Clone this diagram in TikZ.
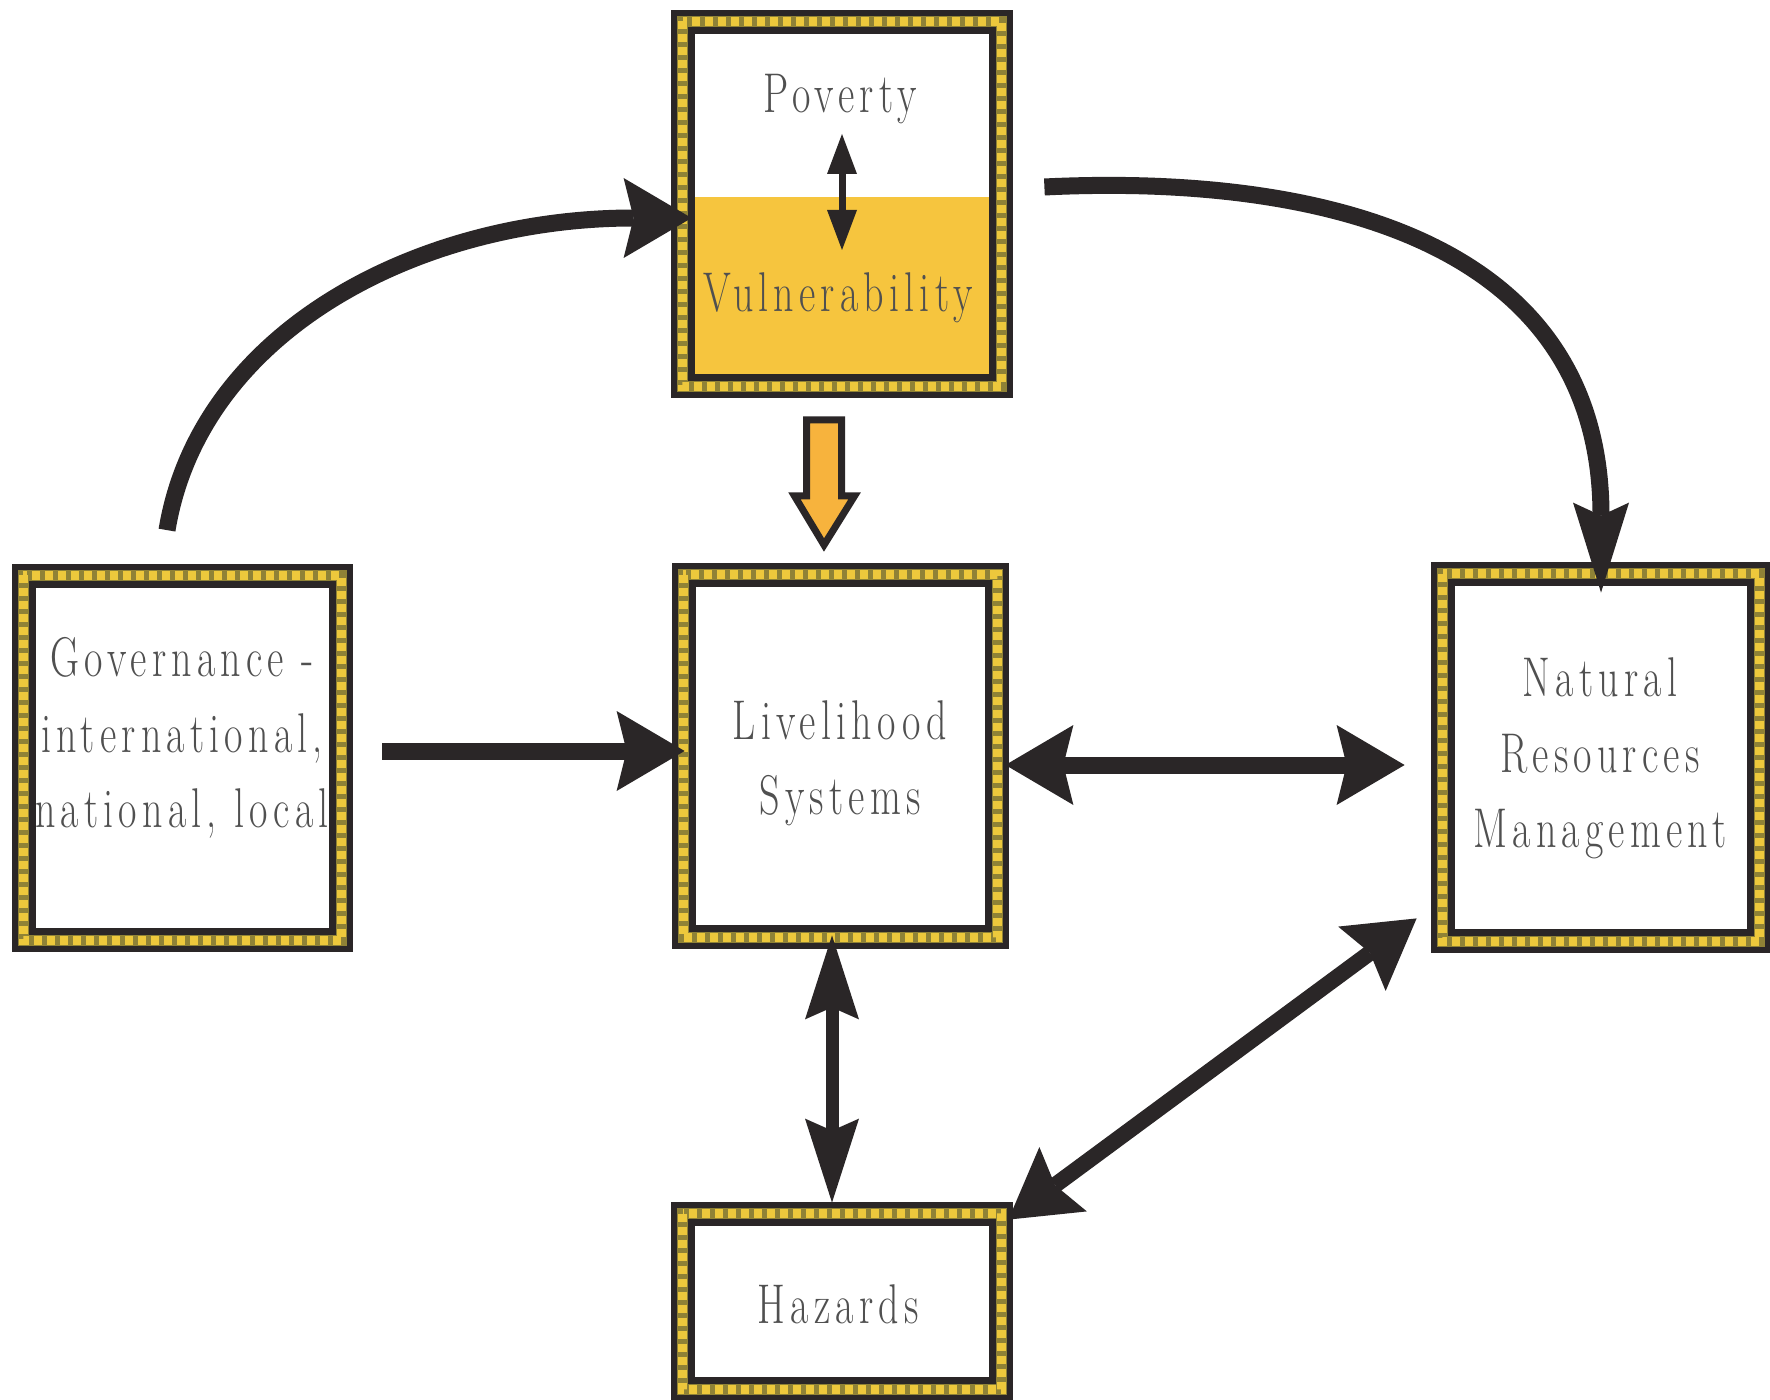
\documentclass[tikz,border=0pt]{standalone}
\usepackage{fontspec}
\usepackage{graphicx}
\usetikzlibrary{arrows.meta}
\newfontfamily\lblfam{lmroman17-regular.otf}[LetterSpace=13]
\definecolor{ink}{RGB}{42,38,39}
\definecolor{olivec}{RGB}{143,130,54}
\definecolor{bandyel}{RGB}{237,200,60}
\definecolor{vulnfill}{RGB}{246,197,62}
\definecolor{orangefill}{RGB}{247,179,61}
\definecolor{txtc}{RGB}{80,80,80}
\newcommand\stx[1]{\scalebox{1}[1.4]{\begin{tabular}{@{}c@{}}#1\end{tabular}}}
\newcommand\mybandframe[1]{%
  \draw[ink, line width=3.5pt] (#1.north west) rectangle (#1.south east);
  \draw[olivec, line width=5.5pt] ([shift={(-9,-9)}]#1.north west) rectangle ([shift={(9,9)}]#1.south east);
  \draw[bandyel, line width=4.5pt, dash pattern=on 4pt off 2.5pt] ([shift={(-9,-9)}]#1.north west) rectangle ([shift={(9,9)}]#1.south east);
  \draw[ink, line width=3pt] ([shift={(-17.5,-17.5)}]#1.north west) rectangle ([shift={(17.5,17.5)}]#1.south east);
}
\tikzset{
  boxn/.style={fill=white, inner sep=0pt, minimum width=150pt, minimum height=173.5pt},
  lbl/.style={text=txtc, font=\lblfam\fontsize{20}{27}\selectfont, align=center, inner sep=0pt},
  bigH/.tip={Stealth[length=34pt, width=40pt, inset=5pt, line width=0pt]},
  vH/.tip={Stealth[length=42pt, width=27pt, inset=6pt, line width=0pt]},
  cH/.tip={Stealth[length=45pt, width=28pt, inset=6.5pt, line width=0pt]},
  smallH/.tip={Stealth[length=20pt, width=15pt, inset=0pt, line width=0pt]},
  bigline/.style={draw=ink, line width=8.5pt},
}
\begin{document}
\begin{tikzpicture}[x=0.5pt,y=-0.5pt]
\fill[white] (0,0) rectangle (1770,1400);
\useasboundingbox (0,0) rectangle (1770,1400);

% boxes
\node[boxn] (top) at (842,204) {};
\fill[vulnfill] (top.west |- 0,197) rectangle (top.south east);
\node[boxn] (gov) at (182.5,758) {};
\node[boxn, minimum width=148pt, minimum height=172pt] (live) at (840.5,756) {};
\node[boxn, minimum width=149pt, minimum height=174.5pt] (nat) at (1601,757.5) {};
\node[boxn, minimum height=78.5pt] (haz) at (842,1301.5) {};
\mybandframe{top}
\mybandframe{gov}
\mybandframe{live}
\mybandframe{nat}
\mybandframe{haz}

% texts
\node[lbl] (pov) at (840,97) {\stx{Poverty}};
\node[lbl] (vul) at (838,296) {\stx{Vulnerability}};
\node[lbl] (govt) at (182,737) {\stx{Governance -\\international,\\national, local}};
\node[lbl] (livt) at (840,762) {\stx{Livelihood\\Systems}};
\node[lbl] (natt) at (1600,757) {\stx{Natural\\Resources\\Management}};
\node[lbl] (hazt) at (838,1308) {\stx{Hazards}};

% small arrow in top box
\draw[ink, line width=3.5pt, smallH-smallH] ([yshift=35pt]top.center) -- ([yshift=-23pt]top.center);

% orange block arrow
\draw[ink, fill=orangefill, line width=3.5pt, line join=miter]
  (806.5,420) -- (841.5,420) -- (841.5,496) -- (854.5,496) -- (824,545) -- (794.5,496) -- (806.5,496) -- cycle;

% connectors
\draw[bigline, -bigH] ([xshift=-7.75pt,yshift=27pt]gov.north)
  .. controls (200,330) and (420,218) .. (top.west |- 0,218);
\draw[bigline, -cH] ([xshift=26pt,yshift=8.5pt]top.east)
  .. controls (1290,175) and (1601,225) .. ([yshift=-5pt]nat.north);
\draw[bigline, -bigH, shorten <=24.75pt, shorten >=3.75pt] (gov.east |- 0,751) -- (live.west |- 0,751);
\draw[bigline, bigH-bigH, shorten <=8.25pt, shorten >=23.5pt] (live.east |- 0,765) -- (nat.west |- 0,765);
\draw[ink, line width=6.5pt, vH-vH] ([xshift=-4.25pt,yshift=-3.5pt]live.south) -- ([xshift=-5pt,yshift=10pt]haz.north);
\draw[ink, line width=8pt, bigH-bigH] ([xshift=8pt,yshift=1.5pt]haz.north east) -- ([xshift=-17.5pt,yshift=7pt]nat.south west);
\end{tikzpicture}
\end{document}
